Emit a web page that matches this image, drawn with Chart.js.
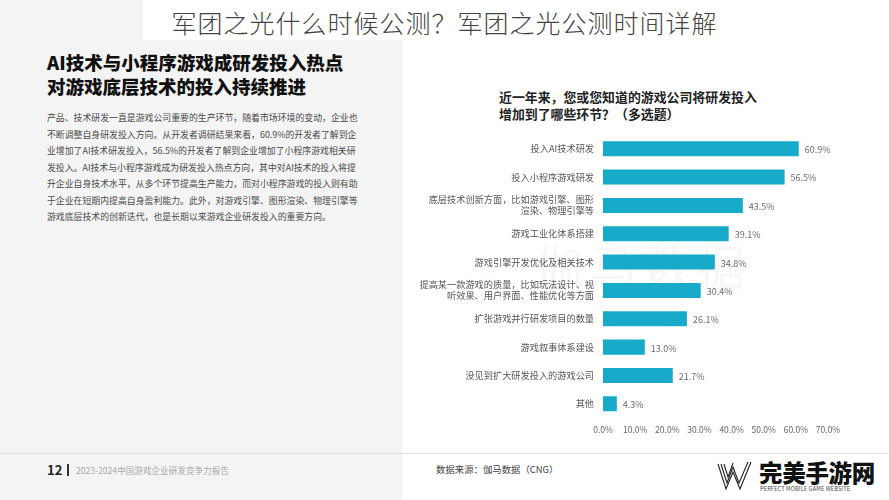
<!DOCTYPE html>
<html>
<head>
<meta charset="utf-8">
<script src="https://cdn.jsdelivr.net/npm/chart.js@4/dist/chart.umd.min.js"></script>
<style>
  html, body { margin: 0; padding: 0; }
  body { width: 889px; height: 500px; position: relative; overflow: hidden; background: #fff;
         font-family: 'Noto Sans CJK SC', 'Noto Sans', sans-serif; }
  .abs { position: absolute; white-space: nowrap; }
  #leftPanel { left: 0; top: 0; width: 402px; height: 500px; background: #f4f4f4; }
  #topBox { left: 143px; top: 0; width: 746px; height: 40px; background: #fff; }
  #pageTitle { left: 0; width: 889px; top: 6px; text-align: center; font-size: 25px; font-weight: 300;
               color: #444; line-height: 32px; letter-spacing: 1px; }
  #leftTitle { left: 47px; top: 50px; font-size: 18.5px; font-weight: 900; color: #111; line-height: 24px; }
  #leftBody { left: 47px; top: 110px; font-size: 8.9px; color: #4a4a4a; line-height: 16.5px; }
  #chartTitle { left: 499px; top: 88px; font-size: 12.9px; font-weight: 700; color: #222; line-height: 17px; }
  #wrap { left: 410px; top: 120px; width: 440px; height: 320px; }
  #rule { left: 0; top: 453px; width: 889px; height: 1px; background: #dedede; }
  #pageNo { left: 47px; top: 462px; font-size: 13px; font-weight: 700; color: #222; line-height: 16px; }
  #pageBar { left: 67px; top: 464px; width: 2px; height: 12px; background: #333; }
  #report { left: 76px; top: 464px; font-size: 8.6px; color: #aaa; line-height: 12px; }
  #source { left: 436px; top: 463px; font-size: 9.4px; color: #444; line-height: 13px; }
  #logoCn { left: 759px; top: 459px; font-size: 23.5px; font-weight: 900; color: #111; line-height: 27px; letter-spacing: -0.3px; }
  #logoEn { left: 760px; top: 486px; font-size: 5.6px; color: #444; line-height: 7px; letter-spacing: 0.15px; }
  #logoW { left: 716px; top: 460px; }
  #mark { left: 535px; top: 234px; font-size: 48px; color: rgba(0,0,0,0.055); letter-spacing: 6px; line-height: 60px; }
</style>
</head>
<body>
<div class="abs" id="leftPanel"></div>
<div class="abs" id="topBox"></div>
<div class="abs" id="pageTitle">军团之光什么时候公测？军团之光公测时间详解</div>

<div class="abs" id="leftTitle">AI技术与小程序游戏成研发投入热点<br>对游戏底层技术的投入持续推进</div>
<div class="abs" id="leftBody">产品、技术研发一直是游戏公司重要的生产环节，随着市场环境的变动，企业也<br>不断调整自身研发投入方向。从开发者调研结果来看，60.9%的开发者了解到企<br>业增加了AI技术研发投入，56.5%的开发者了解到企业增加了小程序游戏相关研<br>发投入。AI技术与小程序游戏成为研发投入热点方向，其中对AI技术的投入将提<br>升企业自身技术水平，从多个环节提高生产能力，而对小程序游戏的投入则有助<br>于企业在短期内提高自身盈利能力。此外，对游戏引擎、图形渲染、物理引擎等<br>游戏底层技术的创新迭代，也是长期以来游戏企业研发投入的重要方向。</div>

<div class="abs" id="chartTitle">近一年来，您或您知道的游戏公司将研发投入<br>增加到了哪些环节？（多选题）</div>
<div class="abs" id="mark">伽马数据</div>
<div class="abs" id="wrap"><canvas id="barChart"></canvas></div>

<div class="abs" id="rule"></div>
<div class="abs" id="pageNo">12</div>
<div class="abs" id="pageBar"></div>
<div class="abs" id="report">2023-2024中国游戏企业研发竞争力报告</div>
<div class="abs" id="source">数据来源：伽马数据（CNG）</div>
<svg class="abs" id="logoW" width="38" height="32" viewBox="0 0 38 32">
  <g fill="none" stroke="#222" stroke-width="1.1">
    <polyline points="2,4 10,29 17,12 24,29 35,2"/>
    <polyline points="5,4 11,23 17,7 23,23 32,2"/>
    <polyline points="8,4 12,17 17,3"/>
  </g>
</svg>
<div class="abs" id="logoCn">完美手游网</div>
<div class="abs" id="logoEn">PERFECT MOBILE GAME WEBSITE</div>

<script>
// 数据（%）
const categories = [
    '投入AI技术研发',
    '投入小程序游戏研发',
    ['底层技术创新方面，比如游戏引擎、图形', '渲染、物理引擎等'],
    '游戏工业化体系搭建',
    '游戏引擎开发优化及相关技术',
    ['提高某一款游戏的质量，比如玩法设计、视', '听效果、用户界面、性能优化等方面'],
    '扩张游戏并行研发项目的数量',
    '游戏叙事体系建设',
    '没见到扩大研发投入的游戏公司',
    '其他'
];
const shares = [60.9, 56.5, 43.5, 39.1, 34.8, 30.4, 26.1, 13.0, 21.7, 4.3];
const xTicks = [0, 10, 20, 30, 40, 50, 60, 70];

const FONT = "'Noto Sans CJK SC', 'Noto Sans', sans-serif";

// 柱子末端的数值标签
const valueLabels = {
    id: 'valueLabels',
    afterDatasetsDraw(chart) {
        const ctx = chart.ctx;
        const meta = chart.getDatasetMeta(0);
        ctx.save();
        ctx.font = '9px ' + FONT;
        ctx.fillStyle = '#6a6a6a';
        ctx.textAlign = 'left';
        ctx.textBaseline = 'middle';
        meta.data.forEach((bar, i) => {
            ctx.fillText(shares[i].toFixed(1) + '%', bar.x + 6, bar.y + 1);
        });
        ctx.restore();
    }
};

new Chart(document.getElementById('barChart'), {
    type: 'bar',
    data: {
        labels: categories,
        datasets: [{
            data: shares,
            backgroundColor: '#17aac9',
            borderWidth: 0,
            categoryPercentage: 1,
            barPercentage: 0.53
        }]
    },
    options: {
        indexAxis: 'y',
        responsive: true,
        maintainAspectRatio: false,
        animation: false,
        layout: { padding: { top: 11, right: 22, left: 0, bottom: 0 } },
        scales: {
            x: {
                min: 0,
                max: 70,
                afterBuildTicks: (scale) => { scale.ticks = xTicks.map(v => ({ value: v })); },
                afterFit: (scale) => { scale.height = 22; },
                grid: { display: false, drawTicks: false },
                border: { display: false },
                ticks: {
                    padding: 7,
                    color: '#666',
                    font: { size: 8.5, family: FONT },
                    callback: (v) => Number(v).toFixed(1) + '%'
                }
            },
            y: {
                afterFit: (scale) => { scale.width = 193; },
                grid: { display: false, drawTicks: false },
                border: { display: false },
                ticks: {
                    padding: 9,
                    color: '#555',
                    font: { size: 9.2, family: FONT, lineHeight: 1.2 }
                }
            }
        },
        plugins: {
            legend: { display: false },
            tooltip: { enabled: false }
        }
    },
    plugins: [valueLabels]
});
</script>
</body>
</html>
